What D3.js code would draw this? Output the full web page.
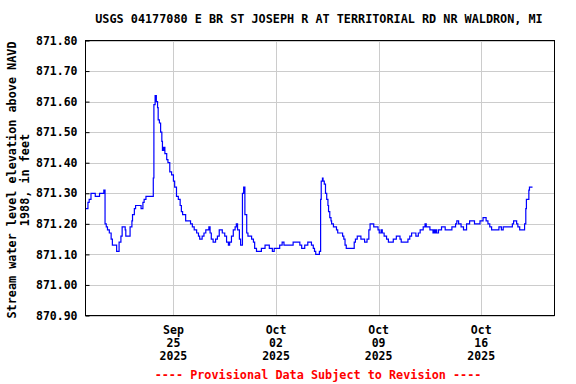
<!DOCTYPE html>
<html>
<head>
<meta charset="utf-8">
<script src="https://cdn.jsdelivr.net/npm/d3@7"></script>
<style>
  body { margin: 0; background: #fff; }
  text { font-family: "DejaVu Sans Mono", monospace; font-weight: bold; }
</style>
</head>
<body>
<div id="chart"></div>
<script>
// gage readings (local time, 2025) and elevation in feet
const times = [
  "09-19 00", "09-19 04", "09-19 06", "09-19 09", "09-19 16", "09-19 23", "09-20 06", "09-20 08",
  "09-20 10", "09-20 12", "09-20 15", "09-20 18", "09-20 20", "09-21 03", "09-21 07", "09-21 10",
  "09-21 12", "09-21 17", "09-21 18", "09-22 01", "09-22 04", "09-22 05", "09-22 08", "09-22 10",
  "09-22 19", "09-22 22", "09-23 00", "09-23 03", "09-23 15", "09-23 16", "09-23 18", "09-23 20",
  "09-23 22", "09-23 23", "09-24 01", "09-24 03", "09-24 05", "09-24 06", "09-24 08", "09-24 10",
  "09-24 13", "09-24 15", "09-24 18", "09-24 21", "09-25 00", "09-25 02", "09-25 05", "09-25 08",
  "09-25 11", "09-25 13", "09-25 15", "09-25 20", "09-26 04", "09-26 07", "09-26 10", "09-26 14",
  "09-26 17", "09-26 19", "09-26 23", "09-27 02", "09-27 05", "09-27 10", "09-27 12", "09-27 14",
  "09-27 17", "09-27 21", "09-28 00", "09-28 03", "09-28 08", "09-28 12", "09-28 15", "09-28 18",
  "09-28 20", "09-28 23", "09-29 02", "09-29 05", "09-29 07", "09-29 09", "09-29 12", "09-29 14",
  "09-29 17", "09-29 19", "09-29 21", "09-30 00", "09-30 02", "09-30 08", "09-30 11", "09-30 13",
  "09-30 16", "10-01 00", "10-01 06", "10-01 13", "10-01 18", "10-01 21", "10-02 06", "10-02 10",
  "10-02 13", "10-03 04", "10-03 15", "10-03 18", "10-03 23", "10-04 04", "10-04 10", "10-04 13",
  "10-04 15", "10-04 17", "10-04 23", "10-05 01", "10-05 02", "10-05 04", "10-05 05", "10-05 07",
  "10-05 09", "10-05 11", "10-05 13", "10-05 14", "10-05 16", "10-05 18", "10-05 19", "10-05 22",
  "10-06 03", "10-06 05", "10-06 13", "10-06 15", "10-06 17", "10-06 19", "10-07 08", "10-07 10",
  "10-07 13", "10-07 19", "10-08 01", "10-08 05", "10-08 08", "10-08 10", "10-08 16", "10-08 23",
  "10-09 01", "10-09 04", "10-09 06", "10-09 09", "10-09 13", "10-09 16", "10-10 00", "10-10 05",
  "10-10 11", "10-10 13", "10-11 00", "10-11 03", "10-11 06", "10-11 13", "10-11 17", "10-11 20",
  "10-12 01", "10-12 04", "10-12 06", "10-12 12", "10-12 17", "10-12 19", "10-12 20", "10-12 22",
  "10-12 23", "10-13 02", "10-13 07", "10-13 13", "10-14 00", "10-14 06", "10-14 08", "10-14 11",
  "10-14 15", "10-14 19", "10-15 00", "10-15 05", "10-15 13", "10-15 22", "10-16 03", "10-16 08",
  "10-16 11", "10-16 14", "10-16 17", "10-17 05", "10-17 09", "10-17 12", "10-18 03", "10-18 05",
  "10-18 10", "10-18 12", "10-18 15", "10-18 23", "10-19 01", "10-19 02", "10-19 06", "10-19 07",
  "10-19 12"
];
const levels = [
  871.25, 871.27, 871.28, 871.30, 871.29, 871.30, 871.31, 871.20,
  871.19, 871.18, 871.17, 871.15, 871.13, 871.11, 871.14, 871.16,
  871.19, 871.18, 871.16, 871.19, 871.21, 871.23, 871.25, 871.26,
  871.25, 871.27, 871.28, 871.29, 871.35, 871.59, 871.62, 871.60,
  871.58, 871.54, 871.53, 871.50, 871.47, 871.44, 871.45, 871.43,
  871.41, 871.40, 871.37, 871.36, 871.34, 871.32, 871.29, 871.28,
  871.26, 871.24, 871.23, 871.21, 871.20, 871.19, 871.18, 871.17,
  871.16, 871.15, 871.16, 871.17, 871.18, 871.19, 871.17, 871.15,
  871.14, 871.15, 871.16, 871.18, 871.17, 871.16, 871.14, 871.13,
  871.14, 871.16, 871.18, 871.19, 871.20, 871.18, 871.15, 871.13,
  871.30, 871.32, 871.23, 871.17, 871.16, 871.15, 871.14, 871.12,
  871.11, 871.12, 871.13, 871.12, 871.11, 871.12, 871.13, 871.14,
  871.13, 871.14, 871.13, 871.12, 871.13, 871.14, 871.13, 871.12,
  871.11, 871.10, 871.11, 871.28, 871.34, 871.35, 871.34, 871.33,
  871.30, 871.28, 871.26, 871.24, 871.22, 871.21, 871.20, 871.19,
  871.18, 871.17, 871.16, 871.15, 871.13, 871.12, 871.14, 871.15,
  871.16, 871.15, 871.14, 871.15, 871.18, 871.20, 871.19, 871.18,
  871.17, 871.18, 871.17, 871.16, 871.15, 871.14, 871.15, 871.16,
  871.15, 871.14, 871.15, 871.16, 871.17, 871.16, 871.17, 871.18,
  871.19, 871.20, 871.19, 871.18, 871.17, 871.18, 871.17, 871.18,
  871.17, 871.18, 871.19, 871.18, 871.19, 871.20, 871.21, 871.20,
  871.19, 871.18, 871.20, 871.21, 871.20, 871.21, 871.22, 871.21,
  871.20, 871.19, 871.18, 871.19, 871.18, 871.19, 871.20, 871.21,
  871.20, 871.19, 871.18, 871.20, 871.25, 871.28, 871.31, 871.32,
  871.32
];

const yTicks = [870.9, 871.0, 871.1, 871.2, 871.3, 871.4, 871.5, 871.6, 871.7, 871.8];
const xTickDays = ["2025-09-25", "2025-10-02", "2025-10-09", "2025-10-16"];
const xDomain = ["2025-09-19", "2025-10-21"];

const title = "USGS 04177080 E BR ST JOSEPH R AT TERRITORIAL RD NR WALDRON, MI";
const yLabel = ["Stream water level elevation above NAVD", "1988, in feet"];
const footer = "---- Provisional Data Subject to Revision ----";

const W = 576, H = 384;
const plotL = 85.5, plotR = 554.5, plotT = 40.5, plotB = 315.5;

const parseDay = d3.timeParse("%Y-%m-%d");
const parseTime = d3.timeParse("%Y-%m-%d %H");
const data = times.map((t, i) => ({ t: parseTime("2025-" + t), v: levels[i] }));

const svg = d3.select("#chart").append("svg")
    .attr("width", W)
    .attr("height", H);

const x = d3.scaleTime()
    .domain(xDomain.map(parseDay))
    .range([plotL, plotR]);

const y = d3.scaleLinear()
    .domain([870.9, 871.8])
    .range([plotB, plotT]);

// grid
svg.append("g")
    .selectAll("line")
    .data(yTicks)
    .enter().append("line")
    .attr("x1", plotL).attr("x2", plotR)
    .attr("y1", d => Math.round(y(d)) + 0.5)
    .attr("y2", d => Math.round(y(d)) + 0.5)
    .attr("stroke", "#cccccc");

svg.append("g")
    .selectAll("line")
    .data(xTickDays.map(parseDay))
    .enter().append("line")
    .attr("x1", d => Math.round(x(d)) + 0.5)
    .attr("x2", d => Math.round(x(d)) + 0.5)
    .attr("y1", plotT).attr("y2", plotB)
    .attr("stroke", "#cccccc");

// y axis: labels + short inside ticks
const yAxis = svg.append("g")
    .attr("transform", `translate(${plotL},0)`)
    .call(d3.axisLeft(y).tickValues(yTicks).tickFormat(d3.format(".2f")).tickSize(-4).tickPadding(8));
yAxis.select(".domain").remove();
yAxis.selectAll("text")
    .attr("fill", "#000")
    .style("font-size", "11.5px")
    .style("font-family", "DejaVu Sans Mono, monospace")
    .style("font-weight", "bold");
yAxis.selectAll("line").attr("stroke", "#000");

// x axis labels (three lines each)
const fmtLines = [d3.timeFormat("%b"), d3.timeFormat("%d"), d3.timeFormat("%Y")];
const xl = svg.append("g")
    .selectAll("text")
    .data(xTickDays.map(parseDay))
    .enter().append("text")
    .attr("x", d => x(d))
    .attr("y", 334)
    .attr("text-anchor", "middle")
    .style("font-size", "11.5px");
fmtLines.forEach((f, i) => {
    xl.append("tspan")
      .attr("x", d => x(d))
      .attr("dy", i === 0 ? 0 : 13)
      .text(d => f(d));
});

// line
const line = d3.line()
    .x(d => x(d.t))
    .y(d => y(d.v))
    .curve(d3.curveStepAfter);

svg.append("path")
    .datum(data)
    .attr("d", line)
    .attr("fill", "none")
    .attr("stroke", "#0000ff")
    .attr("stroke-width", 1.2);

// frame
svg.append("rect")
    .attr("x", plotL).attr("y", plotT)
    .attr("width", plotR - plotL).attr("height", plotB - plotT)
    .attr("fill", "none")
    .attr("stroke", "#000")
    .attr("stroke-width", 1);

// title
svg.append("text")
    .attr("x", 319)
    .attr("y", 23)
    .attr("text-anchor", "middle")
    .style("font-size", "11.8px")
    .text(title);

// y label
svg.append("text")
    .attr("transform", "translate(16,180) rotate(-90)")
    .attr("text-anchor", "middle")
    .style("font-size", "11.8px")
    .selectAll("tspan")
    .data(yLabel)
    .enter().append("tspan")
    .attr("x", 0)
    .attr("dy", (d, i) => i === 0 ? 0 : 13)
    .text(d => d);

// footer
svg.append("text")
    .attr("x", 318)
    .attr("y", 379)
    .attr("text-anchor", "middle")
    .attr("fill", "#ff0000")
    .style("font-size", "11.8px")
    .text(footer);
</script>
</body>
</html>
